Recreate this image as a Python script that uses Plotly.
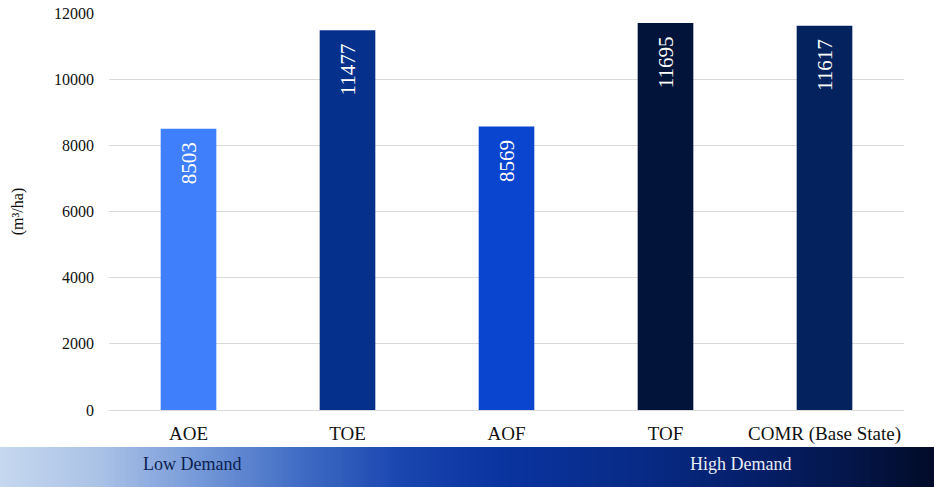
import plotly.graph_objects as go

categories = ["AOE", "TOE", "AOF", "TOF", "COMR (Base State)"]
values = [8503, 11477, 8569, 11695, 11617]
bar_colors = ["#3f7ffc", "#05318c", "#0a45cf", "#02143a", "#04225e"]
y_ticks = [0, 2000, 4000, 6000, 8000, 10000, 12000]
y_tick_labels = ["0", "2000", "4000", "6000", "8000", "10000", "12000"]
band_labels = ["Low Demand", "High Demand"]

FONT = "Liberation Serif, Times New Roman, serif"
W, H = 934, 487
ML, MR = 109, 30

fig = go.Figure()
fig.add_trace(go.Bar(
    x=categories, y=values, marker=dict(color=bar_colors, line=dict(width=0)),
    text=[str(v) + "\u00a0\u00a0" for v in values], textposition="inside", textangle=-90,
    insidetextanchor="end", textfont=dict(family=FONT, size=21, color="white"),
    width=0.35, hoverinfo="x+y",
))

# gradient band (decoration) across full width at the bottom
stops = [(0, (0xc6, 0xd8, 0xef)), (100, (0xaa, 0xc2, 0xe6)), (200, (0x74, 0x98, 0xd8)),
         (300, (0x40, 0x6c, 0xc4)), (400, (0x1a, 0x46, 0xb0)), (500, (0x0a, 0x34, 0xa0)),
         (650, (0x07, 0x2a, 0x84)), (750, (0x05, 0x1f, 0x6a)), (850, (0x04, 0x16, 0x4a)),
         (934, (0x02, 0x0b, 0x28))]

def col_at(px):
    for (a, ca), (b, cb) in zip(stops[:-1], stops[1:]):
        if a <= px <= b:
            t = (px - a) / (b - a)
            return "rgb(%d,%d,%d)" % tuple(round(ca[i] + (cb[i] - ca[i]) * t) for i in range(3))
    return "rgb(2,11,40)"

pw = W - ML - MR
def px_to_paper_x(px):
    return (px - ML) / pw
def py_to_paper_y(py):
    return (H - py) / H

band_top, band_bot = 447, 490
shapes = []
step = 3
for px in range(0, W + step, step):
    shapes.append(dict(type="rect", xref="paper", yref="paper",
                       x0=px_to_paper_x(px), x1=px_to_paper_x(px + step + 0.5),
                       y0=py_to_paper_y(band_bot), y1=py_to_paper_y(band_top),
                       fillcolor=col_at(min(px + step / 2, W)), line=dict(width=0), layer="below"))

annotations = [
    dict(text=band_labels[0], xref="paper", yref="paper", x=px_to_paper_x(192), y=py_to_paper_y(464),
         xanchor="center", yanchor="middle",
         showarrow=False, font=dict(family=FONT, size=18, color="#0c1f4f")),
    dict(text=band_labels[1], xref="paper", yref="paper", x=px_to_paper_x(740), y=py_to_paper_y(464),
         xanchor="center", yanchor="middle",
         showarrow=False, font=dict(family=FONT, size=18, color="#e6ecf7")),
]

y0_px, y12_px = 410, 13
fig.update_layout(
    autosize=True, margin=dict(l=ML, r=MR, t=0, b=0, autoexpand=False),
    paper_bgcolor="white", plot_bgcolor="white", showlegend=False,
    font=dict(family=FONT, size=16, color="#222"),
    shapes=shapes, annotations=annotations, bargap=0.65,
    xaxis=dict(showgrid=False, showline=False, ticks="", tickfont=dict(size=19, color="#111"),
               ticklabelstandoff=10),
    yaxis=dict(range=[0, 12000], tickvals=y_ticks, ticktext=y_tick_labels,
               showgrid=True, gridcolor="#d9d9d9", gridwidth=1,
               zeroline=True, zerolinecolor="#d9d9d9", zerolinewidth=1,
               domain=[py_to_paper_y(y0_px), py_to_paper_y(y12_px)],
               tickfont=dict(size=16, color="#111"), ticklabelstandoff=14,
               title=dict(text="(m³/ha)", font=dict(size=16, color="#111"), standoff=26)),
)

fig.write_html(
    "out.html",
    config={"displayModeBar": False},
    default_width="100vw", default_height="100vh",
    post_script=("document.body.style.margin='0';"
                 "document.documentElement.style.overflow='hidden';"
                 "document.body.style.overflow='hidden';"
                 "Plotly.Plots.resize(document.getElementById('{plot_id}'));"),
)
